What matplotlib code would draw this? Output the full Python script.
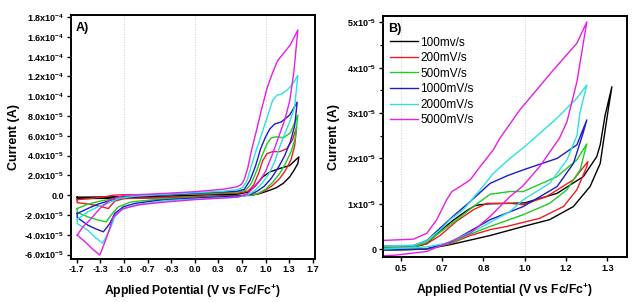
import numpy as np
import matplotlib
matplotlib.use('Agg')
from matplotlib import pyplot as plt
from matplotlib.ticker import FixedLocator, MultipleLocator

plt.rcParams['font.family'] = ['Liberation Sans', 'DejaVu Sans']
plt.rcParams['mathtext.fontset'] = 'custom'
plt.rcParams['mathtext.rm'] = 'Liberation Sans:bold'
plt.rcParams['mathtext.default'] = 'rm'
plt.rcParams['axes.unicode_minus'] = False

# scan rates / legend
labels = ['100mv/s', '200mV/s', '500mV/s', '1000mV/s', '2000mV/s', '5000mV/s']
colors = ['black', '#ee1c24', '#1fcc1f', '#1c1cc8', '#2ee0e0', '#e61ee6']

# Panel A: full window CVs, current in 1e-5 A
a100_v = [-1.66, -1.3, -1.0, -0.5, 0.0, 0.6, 0.75, 0.85, 0.96, 1.06, 1.2, 1.34, 1.47,
          1.455, 1.4, 1.34, 1.25, 1.15, 1.06, 0.92, 0.8, 0.6, 0.0, -0.5, -1.0, -1.66, -1.66]
a100_i = [-0.2, -0.18, -0.15, -0.1, 0.0, 0.1, 0.3, 0.9, 1.85, 2.35, 2.7, 3.0, 3.87,
          3.2, 2.5, 1.85, 1.2, 0.75, 0.5, 0.17, 0.0, -0.05, -0.2, -0.25, -0.3, -0.35, -0.2]

a200_v = [-1.66, -1.5, -1.3, -1.15, -1.0, -0.5, 0.0, 0.6, 0.75, 0.83, 0.9, 0.96, 1.02, 1.1, 1.2, 1.3, 1.38, 1.44,
          1.41, 1.36, 1.28, 1.2, 1.1, 1.0, 0.9, 0.8, 0.6, 0.0, -0.5, -0.8, -1.0, -1.13, -1.22, -1.35, -1.5, -1.66, -1.66]
a200_i = [-0.45, -0.35, -0.2, 0.0, 0.05, 0.05, 0.1, 0.2, 0.4, 1.0, 2.2, 3.5, 4.2, 4.4, 4.4, 4.7, 5.6, 6.9,
          5.0, 3.6, 2.5, 1.7, 1.0, 0.5, 0.15, 0.0, -0.1, -0.2, -0.25, -0.3, -0.35, -0.6, -1.35, -1.1, -0.9, -0.75, -0.45]

a500_v = [-1.66, -1.51, -1.32, -1.13, -0.9, -0.5, 0.0, 0.6, 0.72, 0.8, 0.88, 0.95, 1.02, 1.08, 1.15, 1.25, 1.35, 1.455,
          1.42, 1.36, 1.28, 1.2, 1.1, 1.0, 0.9, 0.8, 0.6, 0.0, -0.5, -0.9, -1.08, -1.18, -1.25, -1.37, -1.51, -1.66, -1.66]
a500_i = [-1.35, -0.91, -0.57, -0.34, -0.07, 0.0, 0.15, 0.3, 0.5, 1.2, 2.6, 4.0, 5.2, 5.8, 5.9, 5.8, 6.3, 8.1,
          5.8, 4.4, 3.2, 2.2, 1.3, 0.6, 0.2, 0.0, -0.1, -0.25, -0.4, -0.68, -1.18, -2.0, -2.7, -2.5, -2.19, -1.75, -1.35]

a1000_v = [-1.66, -1.51, -1.37, -1.18, -0.94, -0.5, 0.0, 0.6, 0.7, 0.78, 0.86, 0.93, 1.0, 1.06, 1.13, 1.22, 1.34, 1.446,
           1.41, 1.35, 1.27, 1.18, 1.08, 0.98, 0.88, 0.78, 0.6, 0.0, -0.5, -0.85, -1.01, -1.13, -1.2, -1.29, -1.4, -1.51, -1.66, -1.66]
a1000_i = [-1.85, -1.35, -0.91, -0.5, -0.17, 0.0, 0.2, 0.4, 0.6, 1.5, 3.0, 4.7, 5.9, 6.7, 7.2, 7.4, 8.1, 9.4,
           7.0, 5.4, 4.0, 2.8, 1.7, 0.9, 0.4, 0.05, -0.1, -0.3, -0.5, -0.84, -1.18, -1.85, -2.86, -3.7, -3.4, -3.03, -2.25, -1.85]

a2000_v = [-1.66, -1.51, -1.37, -1.23, -1.08, -0.85, -0.5, 0.0, 0.4, 0.6, 0.68, 0.74, 0.8, 0.87, 0.95, 1.02, 1.1, 1.16,
           1.22, 1.3, 1.38, 1.455,
           1.41, 1.34, 1.27, 1.2, 1.13, 1.05, 0.95, 0.85, 0.75, 0.6, 0.0, -0.4, -0.85, -1.04, -1.13, -1.2, -1.3, -1.4,
           -1.51, -1.66, -1.66]
a2000_i = [-2.45, -1.68, -1.18, -0.84, -0.34, -0.1, 0.05, 0.25, 0.4, 0.55, 0.8, 1.5, 3.0, 4.6, 6.3, 7.8, 9.6, 10.1,
           10.2, 10.6, 11.2, 12.1,
           8.9, 7.4, 6.2, 4.9, 3.4, 2.2, 1.2, 0.5, 0.0, -0.2, -0.4, -0.55, -1.0, -1.5, -2.2, -3.5, -4.85, -4.3,
           -3.54, -2.86, -2.45]

a5000_v = [-1.66, -1.58, -1.48, -1.34, -1.2, -1.0, -0.5, 0.0, 0.4, 0.6, 0.66, 0.7, 0.75, 0.8, 0.87, 0.94, 1.02, 1.1,
           1.17, 1.25, 1.35, 1.455,
           1.4, 1.34, 1.27, 1.2, 1.1, 1.0, 0.92, 0.82, 0.74, 0.6, 0.0, -0.4, -0.77, -1.01, -1.15, -1.24, -1.34, -1.45,
           -1.55, -1.66]
a5000_i = [-4.04, -3.2, -2.5, -1.35, -0.5, 0.0, 0.15, 0.35, 0.6, 0.85, 1.1, 1.6, 2.8, 4.5, 6.5, 8.6, 10.8, 12.4,
           13.6, 14.3, 15.2, 16.7,
           12.5, 9.5, 7.6, 6.2, 4.2, 2.4, 1.5, 0.7, 0.1, -0.2, -0.45, -0.68, -0.95, -1.35, -2.2, -4.2, -6.05, -5.4,
           -4.7, -4.04]

# Panel B: zoom on the oxidation wave, current in 1e-5 A
b100_v = [0.42, 0.6, 0.7, 0.78, 0.86, 0.994, 1.1, 1.196, 1.263, 1.304, 1.324, 1.337, 1.351,
          1.324, 1.304, 1.29, 1.236, 1.13, 1.0, 0.94, 0.86, 0.82, 0.8, 0.766, 0.712, 0.658, 0.605, 0.55, 0.42]
b100_i = [-0.02, 0.0, 0.1, 0.2, 0.3, 0.5, 0.65, 0.94, 1.38, 1.89, 2.63, 3.1, 3.58,
          2.96, 2.3, 2.04, 1.6, 1.23, 1.02, 1.01, 1.0, 0.98, 0.96, 0.85, 0.64, 0.4, 0.12, 0.04, 0.02]

b200_v = [0.42, 0.6, 0.7, 0.78, 0.86, 0.927, 1.06, 1.156, 1.21, 1.25, 1.254,
          1.196, 1.088, 0.994, 0.94, 0.86, 0.847, 0.793, 0.726, 0.658, 0.605, 0.55, 0.42]
b200_i = [-0.02, 0.0, 0.12, 0.3, 0.43, 0.5, 0.68, 0.94, 1.31, 1.82, 1.93,
          1.53, 1.16, 0.98, 1.01, 1.01, 1.01, 0.87, 0.62, 0.3, 0.12, 0.05, 0.02]

b500_v = [0.42, 0.6, 0.7, 0.78, 0.86, 0.994, 1.1, 1.17, 1.223, 1.25,
          1.21, 1.13, 0.994, 0.94, 0.86, 0.793, 0.726, 0.658, 0.605, 0.551, 0.42]
b500_i = [-0.02, 0.0, 0.13, 0.33, 0.5, 0.76, 1.01, 1.31, 1.75, 2.32,
          1.97, 1.6, 1.27, 1.27, 1.21, 0.94, 0.65, 0.37, 0.15, 0.05, 0.02]

b1000_v = [0.42, 0.6, 0.7, 0.78, 0.86, 0.994, 1.13, 1.196, 1.235, 1.25,
           1.21, 1.13, 1.0, 0.93, 0.86, 0.78, 0.71, 0.658, 0.605, 0.551, 0.42]
b1000_i = [-0.02, 0.0, 0.15, 0.4, 0.65, 0.94, 1.38, 1.89, 2.56, 2.85,
           2.3, 2.0, 1.76, 1.62, 1.45, 1.05, 0.72, 0.46, 0.19, 0.08, 0.07]

b2000_v = [0.42, 0.605, 0.685, 0.82, 0.94, 0.994, 1.1, 1.17, 1.21, 1.223, 1.25,
           1.21, 1.13, 1.008, 0.94, 0.873, 0.82, 0.752, 0.699, 0.658, 0.605, 0.551, 0.42]
b2000_i = [0.0, 0.05, 0.13, 0.47, 0.83, 1.09, 1.45, 1.97, 2.5, 3.03, 3.62,
           3.33, 2.89, 2.3, 2.0, 1.67, 1.31, 0.87, 0.65, 0.42, 0.19, 0.08, 0.07]

b5000_v = [0.42, 0.484, 0.605, 0.685, 0.78, 0.86, 0.94, 0.99, 1.06, 1.14, 1.17, 1.21, 1.25,
           1.21, 1.115, 0.98, 0.9, 0.873, 0.82, 0.78, 0.739, 0.706, 0.685, 0.645, 0.605, 0.551, 0.42]
b5000_i = [-0.15, -0.13, -0.05, 0.13, 0.35, 0.72, 1.16, 1.38, 1.82, 2.45, 2.81, 3.69, 5.01,
           4.54, 3.95, 3.07, 2.45, 2.19, 1.82, 1.53, 1.38, 1.27, 1.09, 0.65, 0.35, 0.22, 0.19]

a_xtick_labels = ['-1.7', '-1.3', '-1.0', '-0.7', '-0.3', '0.0', '0.3', '0.7', '1.0', '1.3', '1.7']
a_ytick_labels = [r'-6.0x10$^{-5}$', r'-4.0x10$^{-5}$', r'-2.0x10$^{-5}$', '0.0',
                  r'2.0x10$^{-5}$', r'4.0x10$^{-5}$', r'6.0x10$^{-5}$', r'8.0x10$^{-5}$',
                  r'1.0x10$^{-4}$', r'1.2x10$^{-4}$', r'1.4x10$^{-4}$', r'1.6x10$^{-4}$', r'1.8x10$^{-4}$']
b_xtick_labels = ['0.5', '0.7', '0.8', '1.0', '1.2', '1.3']
b_ytick_labels = ['0', r'1x10$^{-5}$', r'2x10$^{-5}$', r'3x10$^{-5}$', r'4x10$^{-5}$', r'5x10$^{-5}$']

a_curves = [(a100_v, a100_i), (a200_v, a200_i), (a500_v, a500_i),
            (a1000_v, a1000_i), (a2000_v, a2000_i), (a5000_v, a5000_i)]
b_curves = [(b100_v, b100_i), (b200_v, b200_i), (b500_v, b500_i),
            (b1000_v, b1000_i), (b2000_v, b2000_i), (b5000_v, b5000_i)]

fig = plt.figure(figsize=(6.38, 3.02), dpi=100)
axA = fig.add_axes([0.111, 0.144, 0.383, 0.806])
axB = fig.add_axes([0.601, 0.148, 0.381, 0.799])

for (v, i), c in zip(a_curves, colors):
    axA.plot(v, np.array(i) * 1e-5, color=c, lw=1.0)
for (v, i), c, lab in zip(b_curves, colors, labels):
    axB.plot(v, np.array(i) * 1e-5, color=c, lw=1.0, label=lab)

# panel A axes
axA.set_xlim(-1.75, 1.70)
axA.set_ylim(-6.4e-5, 1.82e-4)
axA.xaxis.set_major_locator(FixedLocator(np.arange(-5, 6) / 3.))
axA.set_xticklabels(a_xtick_labels)
axA.yaxis.set_major_locator(FixedLocator(np.arange(-6, 19, 2) * 1e-5))
axA.set_yticklabels(a_ytick_labels)
for xv in [-1.0, 0.0, 1.0]:
    axA.axvline(xv, color='#cccccc', lw=0.7, ls=':', zorder=0)
axA.text(0.02, 0.97, 'A)', transform=axA.transAxes, fontsize=9, fontweight='bold', va='top')

# panel B axes
axB.set_xlim(0.43, 1.41)
axB.set_ylim(-0.18e-5, 5.14e-5)
axB.xaxis.set_major_locator(FixedLocator(np.arange(3, 9) / 6.))
axB.set_xticklabels(b_xtick_labels)
axB.yaxis.set_major_locator(FixedLocator(np.arange(0, 6) * 1e-5))
axB.yaxis.set_minor_locator(MultipleLocator(0.5e-5))
axB.set_yticklabels(b_ytick_labels)
for xv in [0.5, 1.0]:
    axB.axvline(xv, color='#cccccc', lw=0.7, ls=':', zorder=0)
axB.text(0.02, 0.97, 'B)', transform=axB.transAxes, fontsize=9, fontweight='bold', va='top')
axB.legend(loc='upper left', bbox_to_anchor=(0.0275, 0.915), frameon=False, fontsize=8.5,
           handlelength=2.4, handletextpad=0.15, labelspacing=0.3, borderpad=0, borderaxespad=0)

for ax in (axA, axB):
    for sp in ax.spines.values():
        sp.set_linewidth(1.4)
    ax.tick_params(direction='out', length=3, width=1, labelsize=6.5, pad=2)
    ax.tick_params(which='minor', direction='out', length=2, width=0.8)
    for t in ax.get_xticklabels() + ax.get_yticklabels():
        t.set_fontweight('bold')
    ax.set_xlabel(r'Applied Potential (V vs Fc/Fc$^{+}$)', fontsize=8.7, fontweight='bold', labelpad=6)

axA.set_ylabel('Current (A)', fontsize=9, fontweight='bold', labelpad=3)
axB.set_ylabel('Current (A)', fontsize=9, fontweight='bold', labelpad=5)

fig.savefig('out.png', dpi=100)
